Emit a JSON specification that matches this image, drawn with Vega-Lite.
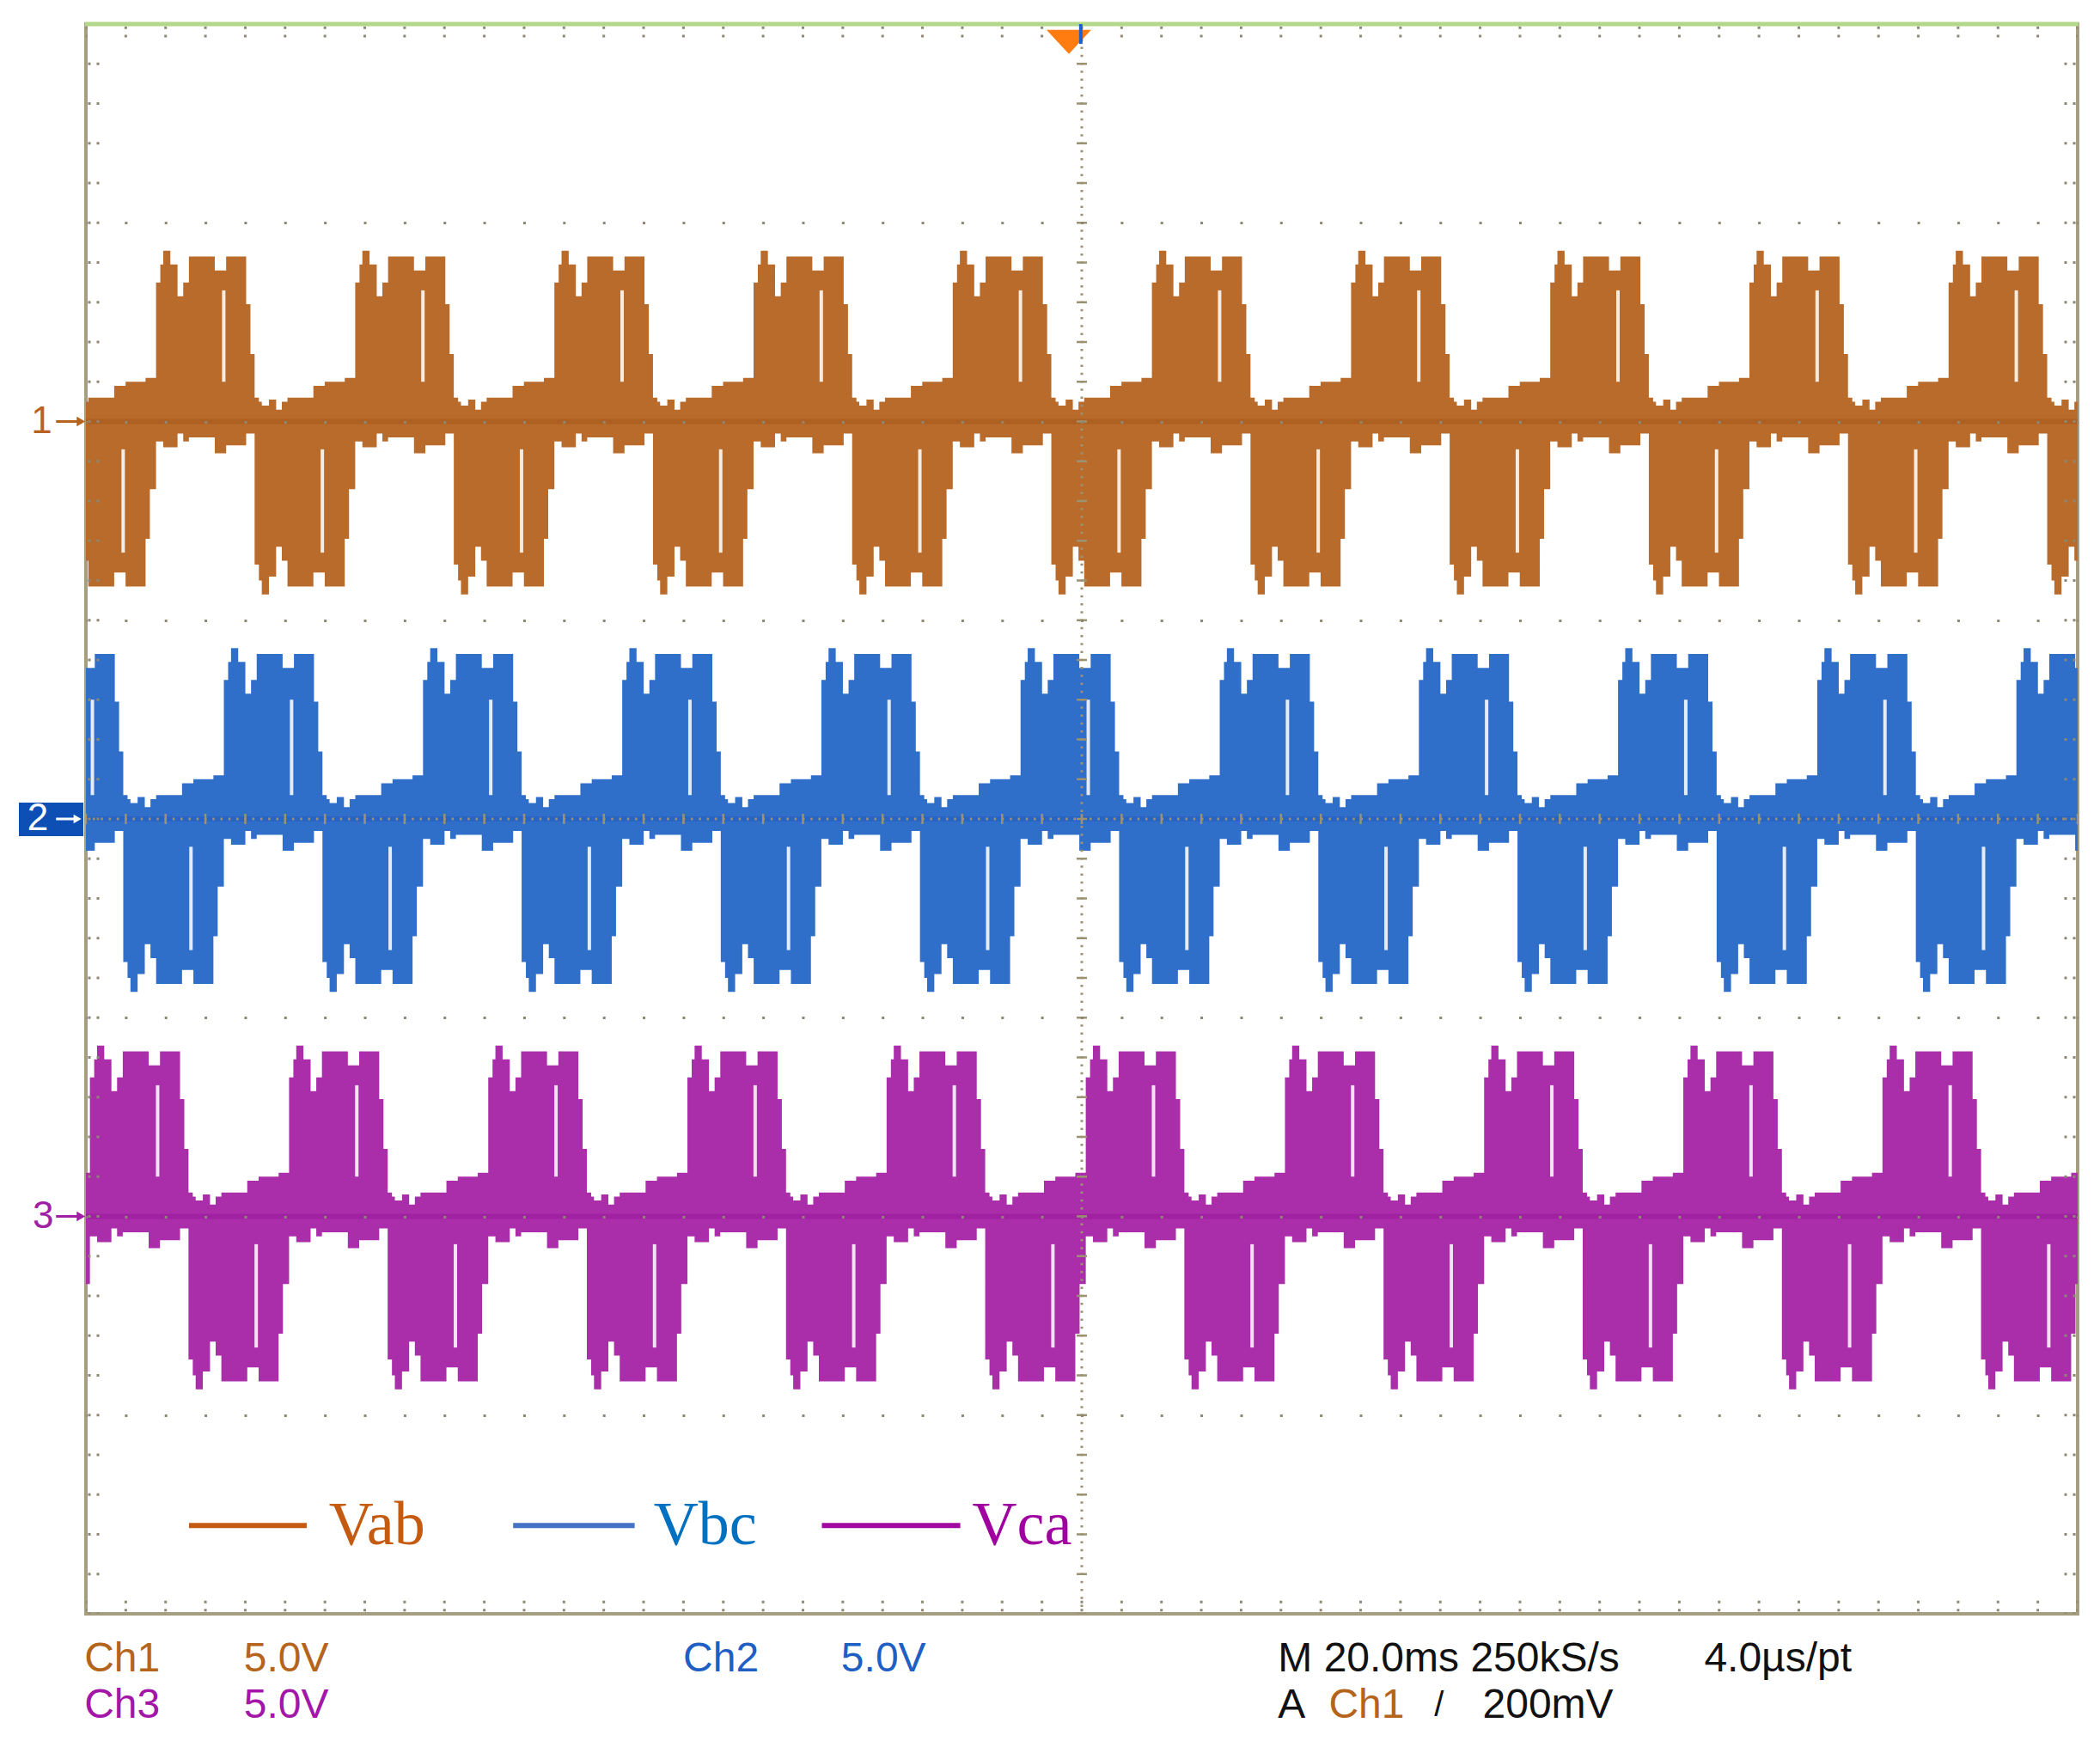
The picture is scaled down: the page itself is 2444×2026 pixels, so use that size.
{
"$schema":"https://vega.github.io/schema/vega-lite/v6.json",
"width":2318,"height":1850,
"padding":{"left":100,"top":28,"right":26,"bottom":148},
"autosize":{"type":"none"},
"background":"white",
"config":{"view":{"stroke":"#a69e80","strokeWidth":4},"axis":{"domain":false,"ticks":false,"labels":false,"grid":false}},
"datasets":{
"vab":[
{"t":0,"h":0.5,"l":-3.5},{"t":0.24,"h":0.6,"l":-4.15},{"t":2.84,"h":0.9,"l":-3.8},{"t":3.98,"h":1,"l":-4.15},{"t":5.99,"h":1.1,"l":-2.95},{"t":6.42,"h":1.1,"l":-1.7},
{"t":7.04,"h":3.5,"l":-0.5},{"t":7.47,"h":3.95,"l":-0.5},{"t":7.76,"h":4.3,"l":-0.65},{"t":8.48,"h":3.95,"l":-0.65},{"t":9.2,"h":3.15,"l":-0.3},{"t":9.77,"h":3.5,"l":-0.5},{"t":10.34,"h":4.15,"l":-0.4},{"t":12.94,"h":3.8,"l":-0.8},{"t":14.08,"h":4.15,"l":-0.6},{"t":16.09,"h":2.95,"l":-0.3},{"t":16.52,"h":1.7,"l":-0.3},{"t":16.94,"h":0.6,"l":-3.6},{"t":17.37,"h":0.5,"l":-4},{"t":17.66,"h":0.4,"l":-4.35},{"t":18.38,"h":0.55,"l":-3.9},{"t":19.1,"h":0.3,"l":-3.15},{"t":19.67,"h":0.5,"l":-3.5},{"t":20.24,"h":0.6,"l":-4.15},{"t":22.84,"h":0.9,"l":-3.8},{"t":23.98,"h":1,"l":-4.15},{"t":25.99,"h":1.1,"l":-2.95},{"t":26.42,"h":1.1,"l":-1.7},
{"t":27.04,"h":3.5,"l":-0.5},{"t":27.47,"h":3.95,"l":-0.5},{"t":27.76,"h":4.3,"l":-0.65},{"t":28.48,"h":3.95,"l":-0.65},{"t":29.2,"h":3.15,"l":-0.3},{"t":29.77,"h":3.5,"l":-0.5},{"t":30.34,"h":4.15,"l":-0.4},{"t":32.94,"h":3.8,"l":-0.8},{"t":34.08,"h":4.15,"l":-0.6},{"t":36.09,"h":2.95,"l":-0.3},{"t":36.52,"h":1.7,"l":-0.3},{"t":36.94,"h":0.6,"l":-3.6},{"t":37.37,"h":0.5,"l":-4},{"t":37.66,"h":0.4,"l":-4.35},{"t":38.38,"h":0.55,"l":-3.9},{"t":39.1,"h":0.3,"l":-3.15},{"t":39.67,"h":0.5,"l":-3.5},{"t":40.24,"h":0.6,"l":-4.15},{"t":42.84,"h":0.9,"l":-3.8},{"t":43.98,"h":1,"l":-4.15},{"t":45.99,"h":1.1,"l":-2.95},{"t":46.42,"h":1.1,"l":-1.7},
{"t":47.04,"h":3.5,"l":-0.5},{"t":47.47,"h":3.95,"l":-0.5},{"t":47.76,"h":4.3,"l":-0.65},{"t":48.48,"h":3.95,"l":-0.65},{"t":49.2,"h":3.15,"l":-0.3},{"t":49.77,"h":3.5,"l":-0.5},{"t":50.34,"h":4.15,"l":-0.4},{"t":52.94,"h":3.8,"l":-0.8},{"t":54.08,"h":4.15,"l":-0.6},{"t":56.09,"h":2.95,"l":-0.3},{"t":56.52,"h":1.7,"l":-0.3},{"t":56.94,"h":0.6,"l":-3.6},{"t":57.37,"h":0.5,"l":-4},{"t":57.66,"h":0.4,"l":-4.35},{"t":58.38,"h":0.55,"l":-3.9},{"t":59.1,"h":0.3,"l":-3.15},{"t":59.67,"h":0.5,"l":-3.5},{"t":60.24,"h":0.6,"l":-4.15},{"t":62.84,"h":0.9,"l":-3.8},{"t":63.98,"h":1,"l":-4.15},{"t":65.99,"h":1.1,"l":-2.95},{"t":66.42,"h":1.1,"l":-1.7},
{"t":67.04,"h":3.5,"l":-0.5},{"t":67.47,"h":3.95,"l":-0.5},{"t":67.76,"h":4.3,"l":-0.65},{"t":68.48,"h":3.95,"l":-0.65},{"t":69.2,"h":3.15,"l":-0.3},{"t":69.77,"h":3.5,"l":-0.5},{"t":70.34,"h":4.15,"l":-0.4},{"t":72.94,"h":3.8,"l":-0.8},{"t":74.08,"h":4.15,"l":-0.6},{"t":76.09,"h":2.95,"l":-0.3},{"t":76.52,"h":1.7,"l":-0.3},{"t":76.94,"h":0.6,"l":-3.6},{"t":77.37,"h":0.5,"l":-4},{"t":77.66,"h":0.4,"l":-4.35},{"t":78.38,"h":0.55,"l":-3.9},{"t":79.1,"h":0.3,"l":-3.15},{"t":79.67,"h":0.5,"l":-3.5},{"t":80.24,"h":0.6,"l":-4.15},{"t":82.84,"h":0.9,"l":-3.8},{"t":83.98,"h":1,"l":-4.15},{"t":85.99,"h":1.1,"l":-2.95},{"t":86.42,"h":1.1,"l":-1.7},
{"t":87.04,"h":3.5,"l":-0.5},{"t":87.47,"h":3.95,"l":-0.5},{"t":87.76,"h":4.3,"l":-0.65},{"t":88.48,"h":3.95,"l":-0.65},{"t":89.2,"h":3.15,"l":-0.3},{"t":89.77,"h":3.5,"l":-0.5},{"t":90.34,"h":4.15,"l":-0.4},{"t":92.94,"h":3.8,"l":-0.8},{"t":94.08,"h":4.15,"l":-0.6},{"t":96.09,"h":2.95,"l":-0.3},{"t":96.52,"h":1.7,"l":-0.3},{"t":96.94,"h":0.6,"l":-3.6},{"t":97.37,"h":0.5,"l":-4},{"t":97.66,"h":0.4,"l":-4.35},{"t":98.38,"h":0.55,"l":-3.9},{"t":99.1,"h":0.3,"l":-3.15},{"t":99.67,"h":0.5,"l":-3.5},{"t":100.24,"h":0.6,"l":-4.15},{"t":102.84,"h":0.9,"l":-3.8},{"t":103.98,"h":1,"l":-4.15},{"t":105.99,"h":1.1,"l":-2.95},{"t":106.42,"h":1.1,"l":-1.7},
{"t":107.04,"h":3.5,"l":-0.5},{"t":107.47,"h":3.95,"l":-0.5},{"t":107.76,"h":4.3,"l":-0.65},{"t":108.48,"h":3.95,"l":-0.65},{"t":109.2,"h":3.15,"l":-0.3},{"t":109.77,"h":3.5,"l":-0.5},{"t":110.34,"h":4.15,"l":-0.4},{"t":112.94,"h":3.8,"l":-0.8},{"t":114.08,"h":4.15,"l":-0.6},{"t":116.09,"h":2.95,"l":-0.3},{"t":116.52,"h":1.7,"l":-0.3},{"t":116.94,"h":0.6,"l":-3.6},{"t":117.37,"h":0.5,"l":-4},{"t":117.66,"h":0.4,"l":-4.35},{"t":118.38,"h":0.55,"l":-3.9},{"t":119.1,"h":0.3,"l":-3.15},{"t":119.67,"h":0.5,"l":-3.5},{"t":120.24,"h":0.6,"l":-4.15},{"t":122.84,"h":0.9,"l":-3.8},{"t":123.98,"h":1,"l":-4.15},{"t":125.99,"h":1.1,"l":-2.95},{"t":126.42,"h":1.1,"l":-1.7},
{"t":127.04,"h":3.5,"l":-0.5},{"t":127.47,"h":3.95,"l":-0.5},{"t":127.76,"h":4.3,"l":-0.65},{"t":128.48,"h":3.95,"l":-0.65},{"t":129.2,"h":3.15,"l":-0.3},{"t":129.77,"h":3.5,"l":-0.5},{"t":130.34,"h":4.15,"l":-0.4},{"t":132.94,"h":3.8,"l":-0.8},{"t":134.08,"h":4.15,"l":-0.6},{"t":136.09,"h":2.95,"l":-0.3},{"t":136.52,"h":1.7,"l":-0.3},{"t":136.94,"h":0.6,"l":-3.6},{"t":137.37,"h":0.5,"l":-4},{"t":137.66,"h":0.4,"l":-4.35},{"t":138.38,"h":0.55,"l":-3.9},{"t":139.1,"h":0.3,"l":-3.15},{"t":139.67,"h":0.5,"l":-3.5},{"t":140.24,"h":0.6,"l":-4.15},{"t":142.84,"h":0.9,"l":-3.8},{"t":143.98,"h":1,"l":-4.15},{"t":145.99,"h":1.1,"l":-2.95},{"t":146.42,"h":1.1,"l":-1.7},
{"t":147.04,"h":3.5,"l":-0.5},{"t":147.47,"h":3.95,"l":-0.5},{"t":147.76,"h":4.3,"l":-0.65},{"t":148.48,"h":3.95,"l":-0.65},{"t":149.2,"h":3.15,"l":-0.3},{"t":149.77,"h":3.5,"l":-0.5},{"t":150.34,"h":4.15,"l":-0.4},{"t":152.94,"h":3.8,"l":-0.8},{"t":154.08,"h":4.15,"l":-0.6},{"t":156.09,"h":2.95,"l":-0.3},{"t":156.52,"h":1.7,"l":-0.3},{"t":156.94,"h":0.6,"l":-3.6},{"t":157.37,"h":0.5,"l":-4},{"t":157.66,"h":0.4,"l":-4.35},{"t":158.38,"h":0.55,"l":-3.9},{"t":159.1,"h":0.3,"l":-3.15},{"t":159.67,"h":0.5,"l":-3.5},{"t":160.24,"h":0.6,"l":-4.15},{"t":162.84,"h":0.9,"l":-3.8},{"t":163.98,"h":1,"l":-4.15},{"t":165.99,"h":1.1,"l":-2.95},{"t":166.42,"h":1.1,"l":-1.7},
{"t":167.04,"h":3.5,"l":-0.5},{"t":167.47,"h":3.95,"l":-0.5},{"t":167.76,"h":4.3,"l":-0.65},{"t":168.48,"h":3.95,"l":-0.65},{"t":169.2,"h":3.15,"l":-0.3},{"t":169.77,"h":3.5,"l":-0.5},{"t":170.34,"h":4.15,"l":-0.4},{"t":172.94,"h":3.8,"l":-0.8},{"t":174.08,"h":4.15,"l":-0.6},{"t":176.09,"h":2.95,"l":-0.3},{"t":176.52,"h":1.7,"l":-0.3},{"t":176.94,"h":0.6,"l":-3.6},{"t":177.37,"h":0.5,"l":-4},{"t":177.66,"h":0.4,"l":-4.35},{"t":178.38,"h":0.55,"l":-3.9},{"t":179.1,"h":0.3,"l":-3.15},{"t":179.67,"h":0.5,"l":-3.5},{"t":180.24,"h":0.6,"l":-4.15},{"t":182.84,"h":0.9,"l":-3.8},{"t":183.98,"h":1,"l":-4.15},{"t":185.99,"h":1.1,"l":-2.95},{"t":186.42,"h":1.1,"l":-1.7},
{"t":187.04,"h":3.5,"l":-0.5},{"t":187.47,"h":3.95,"l":-0.5},{"t":187.76,"h":4.3,"l":-0.65},{"t":188.48,"h":3.95,"l":-0.65},{"t":189.2,"h":3.15,"l":-0.3},{"t":189.77,"h":3.5,"l":-0.5},{"t":190.34,"h":4.15,"l":-0.4},{"t":192.94,"h":3.8,"l":-0.8},{"t":194.08,"h":4.15,"l":-0.6},{"t":196.09,"h":2.95,"l":-0.3},{"t":196.52,"h":1.7,"l":-0.3},{"t":196.94,"h":0.6,"l":-3.6},{"t":197.37,"h":0.5,"l":-4},{"t":197.66,"h":0.4,"l":-4.35},{"t":198.38,"h":0.55,"l":-3.9},{"t":199.1,"h":0.3,"l":-3.15},{"t":199.67,"h":0.5,"l":-3.5},{"t":200,"h":0.5,"l":-3.5}
],
"vbc":[
{"t":0,"h":3.8,"l":-0.8},{"t":0.89,"h":4.15,"l":-0.6},{"t":2.9,"h":2.95,"l":-0.3},{"t":3.33,"h":1.7,"l":-0.3},{"t":3.75,"h":0.6,"l":-3.6},{"t":4.18,"h":0.5,"l":-4},{"t":4.47,"h":0.4,"l":-4.35},{"t":5.19,"h":0.55,"l":-3.9},{"t":5.91,"h":0.3,"l":-3.15},{"t":6.48,"h":0.5,"l":-3.5},{"t":7.05,"h":0.6,"l":-4.15},{"t":9.65,"h":0.9,"l":-3.8},{"t":10.79,"h":1,"l":-4.15},{"t":12.8,"h":1.1,"l":-2.95},{"t":13.23,"h":1.1,"l":-1.7},
{"t":13.85,"h":3.5,"l":-0.5},{"t":14.28,"h":3.95,"l":-0.5},{"t":14.57,"h":4.3,"l":-0.65},{"t":15.29,"h":3.95,"l":-0.65},{"t":16.01,"h":3.15,"l":-0.3},{"t":16.58,"h":3.5,"l":-0.5},{"t":17.15,"h":4.15,"l":-0.4},{"t":19.75,"h":3.8,"l":-0.8},{"t":20.89,"h":4.15,"l":-0.6},{"t":22.9,"h":2.95,"l":-0.3},{"t":23.33,"h":1.7,"l":-0.3},{"t":23.75,"h":0.6,"l":-3.6},{"t":24.18,"h":0.5,"l":-4},{"t":24.47,"h":0.4,"l":-4.35},{"t":25.19,"h":0.55,"l":-3.9},{"t":25.91,"h":0.3,"l":-3.15},{"t":26.48,"h":0.5,"l":-3.5},{"t":27.05,"h":0.6,"l":-4.15},{"t":29.65,"h":0.9,"l":-3.8},{"t":30.79,"h":1,"l":-4.15},{"t":32.8,"h":1.1,"l":-2.95},{"t":33.23,"h":1.1,"l":-1.7},
{"t":33.85,"h":3.5,"l":-0.5},{"t":34.28,"h":3.95,"l":-0.5},{"t":34.57,"h":4.3,"l":-0.65},{"t":35.29,"h":3.95,"l":-0.65},{"t":36.01,"h":3.15,"l":-0.3},{"t":36.58,"h":3.5,"l":-0.5},{"t":37.15,"h":4.15,"l":-0.4},{"t":39.75,"h":3.8,"l":-0.8},{"t":40.89,"h":4.15,"l":-0.6},{"t":42.9,"h":2.95,"l":-0.3},{"t":43.33,"h":1.7,"l":-0.3},{"t":43.75,"h":0.6,"l":-3.6},{"t":44.18,"h":0.5,"l":-4},{"t":44.47,"h":0.4,"l":-4.35},{"t":45.19,"h":0.55,"l":-3.9},{"t":45.91,"h":0.3,"l":-3.15},{"t":46.48,"h":0.5,"l":-3.5},{"t":47.05,"h":0.6,"l":-4.15},{"t":49.65,"h":0.9,"l":-3.8},{"t":50.79,"h":1,"l":-4.15},{"t":52.8,"h":1.1,"l":-2.95},{"t":53.23,"h":1.1,"l":-1.7},
{"t":53.85,"h":3.5,"l":-0.5},{"t":54.28,"h":3.95,"l":-0.5},{"t":54.57,"h":4.3,"l":-0.65},{"t":55.29,"h":3.95,"l":-0.65},{"t":56.01,"h":3.15,"l":-0.3},{"t":56.58,"h":3.5,"l":-0.5},{"t":57.15,"h":4.15,"l":-0.4},{"t":59.75,"h":3.8,"l":-0.8},{"t":60.89,"h":4.15,"l":-0.6},{"t":62.9,"h":2.95,"l":-0.3},{"t":63.33,"h":1.7,"l":-0.3},{"t":63.75,"h":0.6,"l":-3.6},{"t":64.18,"h":0.5,"l":-4},{"t":64.47,"h":0.4,"l":-4.35},{"t":65.19,"h":0.55,"l":-3.9},{"t":65.91,"h":0.3,"l":-3.15},{"t":66.48,"h":0.5,"l":-3.5},{"t":67.05,"h":0.6,"l":-4.15},{"t":69.65,"h":0.9,"l":-3.8},{"t":70.79,"h":1,"l":-4.15},{"t":72.8,"h":1.1,"l":-2.95},{"t":73.23,"h":1.1,"l":-1.7},
{"t":73.85,"h":3.5,"l":-0.5},{"t":74.28,"h":3.95,"l":-0.5},{"t":74.57,"h":4.3,"l":-0.65},{"t":75.29,"h":3.95,"l":-0.65},{"t":76.01,"h":3.15,"l":-0.3},{"t":76.58,"h":3.5,"l":-0.5},{"t":77.15,"h":4.15,"l":-0.4},{"t":79.75,"h":3.8,"l":-0.8},{"t":80.89,"h":4.15,"l":-0.6},{"t":82.9,"h":2.95,"l":-0.3},{"t":83.33,"h":1.7,"l":-0.3},{"t":83.75,"h":0.6,"l":-3.6},{"t":84.18,"h":0.5,"l":-4},{"t":84.47,"h":0.4,"l":-4.35},{"t":85.19,"h":0.55,"l":-3.9},{"t":85.91,"h":0.3,"l":-3.15},{"t":86.48,"h":0.5,"l":-3.5},{"t":87.05,"h":0.6,"l":-4.15},{"t":89.65,"h":0.9,"l":-3.8},{"t":90.79,"h":1,"l":-4.15},{"t":92.8,"h":1.1,"l":-2.95},{"t":93.23,"h":1.1,"l":-1.7},
{"t":93.85,"h":3.5,"l":-0.5},{"t":94.28,"h":3.95,"l":-0.5},{"t":94.57,"h":4.3,"l":-0.65},{"t":95.29,"h":3.95,"l":-0.65},{"t":96.01,"h":3.15,"l":-0.3},{"t":96.58,"h":3.5,"l":-0.5},{"t":97.15,"h":4.15,"l":-0.4},{"t":99.75,"h":3.8,"l":-0.8},{"t":100.89,"h":4.15,"l":-0.6},{"t":102.9,"h":2.95,"l":-0.3},{"t":103.33,"h":1.7,"l":-0.3},{"t":103.75,"h":0.6,"l":-3.6},{"t":104.18,"h":0.5,"l":-4},{"t":104.47,"h":0.4,"l":-4.35},{"t":105.19,"h":0.55,"l":-3.9},{"t":105.91,"h":0.3,"l":-3.15},{"t":106.48,"h":0.5,"l":-3.5},{"t":107.05,"h":0.6,"l":-4.15},{"t":109.65,"h":0.9,"l":-3.8},{"t":110.79,"h":1,"l":-4.15},{"t":112.8,"h":1.1,"l":-2.95},{"t":113.23,"h":1.1,"l":-1.7},
{"t":113.85,"h":3.5,"l":-0.5},{"t":114.28,"h":3.95,"l":-0.5},{"t":114.57,"h":4.3,"l":-0.65},{"t":115.29,"h":3.95,"l":-0.65},{"t":116.01,"h":3.15,"l":-0.3},{"t":116.58,"h":3.5,"l":-0.5},{"t":117.15,"h":4.15,"l":-0.4},{"t":119.75,"h":3.8,"l":-0.8},{"t":120.89,"h":4.15,"l":-0.6},{"t":122.9,"h":2.95,"l":-0.3},{"t":123.33,"h":1.7,"l":-0.3},{"t":123.75,"h":0.6,"l":-3.6},{"t":124.18,"h":0.5,"l":-4},{"t":124.47,"h":0.4,"l":-4.35},{"t":125.19,"h":0.55,"l":-3.9},{"t":125.91,"h":0.3,"l":-3.15},{"t":126.48,"h":0.5,"l":-3.5},{"t":127.05,"h":0.6,"l":-4.15},{"t":129.65,"h":0.9,"l":-3.8},{"t":130.79,"h":1,"l":-4.15},{"t":132.8,"h":1.1,"l":-2.95},{"t":133.23,"h":1.1,"l":-1.7},
{"t":133.85,"h":3.5,"l":-0.5},{"t":134.28,"h":3.95,"l":-0.5},{"t":134.57,"h":4.3,"l":-0.65},{"t":135.29,"h":3.95,"l":-0.65},{"t":136.01,"h":3.15,"l":-0.3},{"t":136.58,"h":3.5,"l":-0.5},{"t":137.15,"h":4.15,"l":-0.4},{"t":139.75,"h":3.8,"l":-0.8},{"t":140.89,"h":4.15,"l":-0.6},{"t":142.9,"h":2.95,"l":-0.3},{"t":143.33,"h":1.7,"l":-0.3},{"t":143.75,"h":0.6,"l":-3.6},{"t":144.18,"h":0.5,"l":-4},{"t":144.47,"h":0.4,"l":-4.35},{"t":145.19,"h":0.55,"l":-3.9},{"t":145.91,"h":0.3,"l":-3.15},{"t":146.48,"h":0.5,"l":-3.5},{"t":147.05,"h":0.6,"l":-4.15},{"t":149.65,"h":0.9,"l":-3.8},{"t":150.79,"h":1,"l":-4.15},{"t":152.8,"h":1.1,"l":-2.95},{"t":153.23,"h":1.1,"l":-1.7},
{"t":153.85,"h":3.5,"l":-0.5},{"t":154.28,"h":3.95,"l":-0.5},{"t":154.57,"h":4.3,"l":-0.65},{"t":155.29,"h":3.95,"l":-0.65},{"t":156.01,"h":3.15,"l":-0.3},{"t":156.58,"h":3.5,"l":-0.5},{"t":157.15,"h":4.15,"l":-0.4},{"t":159.75,"h":3.8,"l":-0.8},{"t":160.89,"h":4.15,"l":-0.6},{"t":162.9,"h":2.95,"l":-0.3},{"t":163.33,"h":1.7,"l":-0.3},{"t":163.75,"h":0.6,"l":-3.6},{"t":164.18,"h":0.5,"l":-4},{"t":164.47,"h":0.4,"l":-4.35},{"t":165.19,"h":0.55,"l":-3.9},{"t":165.91,"h":0.3,"l":-3.15},{"t":166.48,"h":0.5,"l":-3.5},{"t":167.05,"h":0.6,"l":-4.15},{"t":169.65,"h":0.9,"l":-3.8},{"t":170.79,"h":1,"l":-4.15},{"t":172.8,"h":1.1,"l":-2.95},{"t":173.23,"h":1.1,"l":-1.7},
{"t":173.85,"h":3.5,"l":-0.5},{"t":174.28,"h":3.95,"l":-0.5},{"t":174.57,"h":4.3,"l":-0.65},{"t":175.29,"h":3.95,"l":-0.65},{"t":176.01,"h":3.15,"l":-0.3},{"t":176.58,"h":3.5,"l":-0.5},{"t":177.15,"h":4.15,"l":-0.4},{"t":179.75,"h":3.8,"l":-0.8},{"t":180.89,"h":4.15,"l":-0.6},{"t":182.9,"h":2.95,"l":-0.3},{"t":183.33,"h":1.7,"l":-0.3},{"t":183.75,"h":0.6,"l":-3.6},{"t":184.18,"h":0.5,"l":-4},{"t":184.47,"h":0.4,"l":-4.35},{"t":185.19,"h":0.55,"l":-3.9},{"t":185.91,"h":0.3,"l":-3.15},{"t":186.48,"h":0.5,"l":-3.5},{"t":187.05,"h":0.6,"l":-4.15},{"t":189.65,"h":0.9,"l":-3.8},{"t":190.79,"h":1,"l":-4.15},{"t":192.8,"h":1.1,"l":-2.95},{"t":193.23,"h":1.1,"l":-1.7},
{"t":193.85,"h":3.5,"l":-0.5},{"t":194.28,"h":3.95,"l":-0.5},{"t":194.57,"h":4.3,"l":-0.65},{"t":195.29,"h":3.95,"l":-0.65},{"t":196.01,"h":3.15,"l":-0.3},{"t":196.58,"h":3.5,"l":-0.5},{"t":197.15,"h":4.15,"l":-0.4},{"t":199.75,"h":3.8,"l":-0.8},{"t":200,"h":3.8,"l":-0.8}
],
"vca":[
{"t":0,"h":1.1,"l":-1.7},
{"t":0.4,"h":3.5,"l":-0.5},{"t":0.83,"h":3.95,"l":-0.5},{"t":1.12,"h":4.3,"l":-0.65},{"t":1.84,"h":3.95,"l":-0.65},{"t":2.56,"h":3.15,"l":-0.3},{"t":3.13,"h":3.5,"l":-0.5},{"t":3.7,"h":4.15,"l":-0.4},{"t":6.3,"h":3.8,"l":-0.8},{"t":7.44,"h":4.15,"l":-0.6},{"t":9.45,"h":2.95,"l":-0.3},{"t":9.88,"h":1.7,"l":-0.3},{"t":10.3,"h":0.6,"l":-3.6},{"t":10.73,"h":0.5,"l":-4},{"t":11.02,"h":0.4,"l":-4.35},{"t":11.74,"h":0.55,"l":-3.9},{"t":12.46,"h":0.3,"l":-3.15},{"t":13.03,"h":0.5,"l":-3.5},{"t":13.6,"h":0.6,"l":-4.15},{"t":16.2,"h":0.9,"l":-3.8},{"t":17.34,"h":1,"l":-4.15},{"t":19.35,"h":1.1,"l":-2.95},{"t":19.78,"h":1.1,"l":-1.7},
{"t":20.4,"h":3.5,"l":-0.5},{"t":20.83,"h":3.95,"l":-0.5},{"t":21.12,"h":4.3,"l":-0.65},{"t":21.84,"h":3.95,"l":-0.65},{"t":22.56,"h":3.15,"l":-0.3},{"t":23.13,"h":3.5,"l":-0.5},{"t":23.7,"h":4.15,"l":-0.4},{"t":26.3,"h":3.8,"l":-0.8},{"t":27.44,"h":4.15,"l":-0.6},{"t":29.45,"h":2.95,"l":-0.3},{"t":29.88,"h":1.7,"l":-0.3},{"t":30.3,"h":0.6,"l":-3.6},{"t":30.73,"h":0.5,"l":-4},{"t":31.02,"h":0.4,"l":-4.35},{"t":31.74,"h":0.55,"l":-3.9},{"t":32.46,"h":0.3,"l":-3.15},{"t":33.03,"h":0.5,"l":-3.5},{"t":33.6,"h":0.6,"l":-4.15},{"t":36.2,"h":0.9,"l":-3.8},{"t":37.34,"h":1,"l":-4.15},{"t":39.35,"h":1.1,"l":-2.95},{"t":39.78,"h":1.1,"l":-1.7},
{"t":40.4,"h":3.5,"l":-0.5},{"t":40.83,"h":3.95,"l":-0.5},{"t":41.12,"h":4.3,"l":-0.65},{"t":41.84,"h":3.95,"l":-0.65},{"t":42.56,"h":3.15,"l":-0.3},{"t":43.13,"h":3.5,"l":-0.5},{"t":43.7,"h":4.15,"l":-0.4},{"t":46.3,"h":3.8,"l":-0.8},{"t":47.44,"h":4.15,"l":-0.6},{"t":49.45,"h":2.95,"l":-0.3},{"t":49.88,"h":1.7,"l":-0.3},{"t":50.3,"h":0.6,"l":-3.6},{"t":50.73,"h":0.5,"l":-4},{"t":51.02,"h":0.4,"l":-4.35},{"t":51.74,"h":0.55,"l":-3.9},{"t":52.46,"h":0.3,"l":-3.15},{"t":53.03,"h":0.5,"l":-3.5},{"t":53.6,"h":0.6,"l":-4.15},{"t":56.2,"h":0.9,"l":-3.8},{"t":57.34,"h":1,"l":-4.15},{"t":59.35,"h":1.1,"l":-2.95},{"t":59.78,"h":1.1,"l":-1.7},
{"t":60.4,"h":3.5,"l":-0.5},{"t":60.83,"h":3.95,"l":-0.5},{"t":61.12,"h":4.3,"l":-0.65},{"t":61.84,"h":3.95,"l":-0.65},{"t":62.56,"h":3.15,"l":-0.3},{"t":63.13,"h":3.5,"l":-0.5},{"t":63.7,"h":4.15,"l":-0.4},{"t":66.3,"h":3.8,"l":-0.8},{"t":67.44,"h":4.15,"l":-0.6},{"t":69.45,"h":2.95,"l":-0.3},{"t":69.88,"h":1.7,"l":-0.3},{"t":70.3,"h":0.6,"l":-3.6},{"t":70.73,"h":0.5,"l":-4},{"t":71.02,"h":0.4,"l":-4.35},{"t":71.74,"h":0.55,"l":-3.9},{"t":72.46,"h":0.3,"l":-3.15},{"t":73.03,"h":0.5,"l":-3.5},{"t":73.6,"h":0.6,"l":-4.15},{"t":76.2,"h":0.9,"l":-3.8},{"t":77.34,"h":1,"l":-4.15},{"t":79.35,"h":1.1,"l":-2.95},{"t":79.78,"h":1.1,"l":-1.7},
{"t":80.4,"h":3.5,"l":-0.5},{"t":80.83,"h":3.95,"l":-0.5},{"t":81.12,"h":4.3,"l":-0.65},{"t":81.84,"h":3.95,"l":-0.65},{"t":82.56,"h":3.15,"l":-0.3},{"t":83.13,"h":3.5,"l":-0.5},{"t":83.7,"h":4.15,"l":-0.4},{"t":86.3,"h":3.8,"l":-0.8},{"t":87.44,"h":4.15,"l":-0.6},{"t":89.45,"h":2.95,"l":-0.3},{"t":89.88,"h":1.7,"l":-0.3},{"t":90.3,"h":0.6,"l":-3.6},{"t":90.73,"h":0.5,"l":-4},{"t":91.02,"h":0.4,"l":-4.35},{"t":91.74,"h":0.55,"l":-3.9},{"t":92.46,"h":0.3,"l":-3.15},{"t":93.03,"h":0.5,"l":-3.5},{"t":93.6,"h":0.6,"l":-4.15},{"t":96.2,"h":0.9,"l":-3.8},{"t":97.34,"h":1,"l":-4.15},{"t":99.35,"h":1.1,"l":-2.95},{"t":99.78,"h":1.1,"l":-1.7},
{"t":100.4,"h":3.5,"l":-0.5},{"t":100.83,"h":3.95,"l":-0.5},{"t":101.12,"h":4.3,"l":-0.65},{"t":101.84,"h":3.95,"l":-0.65},{"t":102.56,"h":3.15,"l":-0.3},{"t":103.13,"h":3.5,"l":-0.5},{"t":103.7,"h":4.15,"l":-0.4},{"t":106.3,"h":3.8,"l":-0.8},{"t":107.44,"h":4.15,"l":-0.6},{"t":109.45,"h":2.95,"l":-0.3},{"t":109.88,"h":1.7,"l":-0.3},{"t":110.3,"h":0.6,"l":-3.6},{"t":110.73,"h":0.5,"l":-4},{"t":111.02,"h":0.4,"l":-4.35},{"t":111.74,"h":0.55,"l":-3.9},{"t":112.46,"h":0.3,"l":-3.15},{"t":113.03,"h":0.5,"l":-3.5},{"t":113.6,"h":0.6,"l":-4.15},{"t":116.2,"h":0.9,"l":-3.8},{"t":117.34,"h":1,"l":-4.15},{"t":119.35,"h":1.1,"l":-2.95},{"t":119.78,"h":1.1,"l":-1.7},
{"t":120.4,"h":3.5,"l":-0.5},{"t":120.83,"h":3.95,"l":-0.5},{"t":121.12,"h":4.3,"l":-0.65},{"t":121.84,"h":3.95,"l":-0.65},{"t":122.56,"h":3.15,"l":-0.3},{"t":123.13,"h":3.5,"l":-0.5},{"t":123.7,"h":4.15,"l":-0.4},{"t":126.3,"h":3.8,"l":-0.8},{"t":127.44,"h":4.15,"l":-0.6},{"t":129.45,"h":2.95,"l":-0.3},{"t":129.88,"h":1.7,"l":-0.3},{"t":130.3,"h":0.6,"l":-3.6},{"t":130.73,"h":0.5,"l":-4},{"t":131.02,"h":0.4,"l":-4.35},{"t":131.74,"h":0.55,"l":-3.9},{"t":132.46,"h":0.3,"l":-3.15},{"t":133.03,"h":0.5,"l":-3.5},{"t":133.6,"h":0.6,"l":-4.15},{"t":136.2,"h":0.9,"l":-3.8},{"t":137.34,"h":1,"l":-4.15},{"t":139.35,"h":1.1,"l":-2.95},{"t":139.78,"h":1.1,"l":-1.7},
{"t":140.4,"h":3.5,"l":-0.5},{"t":140.83,"h":3.95,"l":-0.5},{"t":141.12,"h":4.3,"l":-0.65},{"t":141.84,"h":3.95,"l":-0.65},{"t":142.56,"h":3.15,"l":-0.3},{"t":143.13,"h":3.5,"l":-0.5},{"t":143.7,"h":4.15,"l":-0.4},{"t":146.3,"h":3.8,"l":-0.8},{"t":147.44,"h":4.15,"l":-0.6},{"t":149.45,"h":2.95,"l":-0.3},{"t":149.88,"h":1.7,"l":-0.3},{"t":150.3,"h":0.6,"l":-3.6},{"t":150.73,"h":0.5,"l":-4},{"t":151.02,"h":0.4,"l":-4.35},{"t":151.74,"h":0.55,"l":-3.9},{"t":152.46,"h":0.3,"l":-3.15},{"t":153.03,"h":0.5,"l":-3.5},{"t":153.6,"h":0.6,"l":-4.15},{"t":156.2,"h":0.9,"l":-3.8},{"t":157.34,"h":1,"l":-4.15},{"t":159.35,"h":1.1,"l":-2.95},{"t":159.78,"h":1.1,"l":-1.7},
{"t":160.4,"h":3.5,"l":-0.5},{"t":160.83,"h":3.95,"l":-0.5},{"t":161.12,"h":4.3,"l":-0.65},{"t":161.84,"h":3.95,"l":-0.65},{"t":162.56,"h":3.15,"l":-0.3},{"t":163.13,"h":3.5,"l":-0.5},{"t":163.7,"h":4.15,"l":-0.4},{"t":166.3,"h":3.8,"l":-0.8},{"t":167.44,"h":4.15,"l":-0.6},{"t":169.45,"h":2.95,"l":-0.3},{"t":169.88,"h":1.7,"l":-0.3},{"t":170.3,"h":0.6,"l":-3.6},{"t":170.73,"h":0.5,"l":-4},{"t":171.02,"h":0.4,"l":-4.35},{"t":171.74,"h":0.55,"l":-3.9},{"t":172.46,"h":0.3,"l":-3.15},{"t":173.03,"h":0.5,"l":-3.5},{"t":173.6,"h":0.6,"l":-4.15},{"t":176.2,"h":0.9,"l":-3.8},{"t":177.34,"h":1,"l":-4.15},{"t":179.35,"h":1.1,"l":-2.95},{"t":179.78,"h":1.1,"l":-1.7},
{"t":180.4,"h":3.5,"l":-0.5},{"t":180.83,"h":3.95,"l":-0.5},{"t":181.12,"h":4.3,"l":-0.65},{"t":181.84,"h":3.95,"l":-0.65},{"t":182.56,"h":3.15,"l":-0.3},{"t":183.13,"h":3.5,"l":-0.5},{"t":183.7,"h":4.15,"l":-0.4},{"t":186.3,"h":3.8,"l":-0.8},{"t":187.44,"h":4.15,"l":-0.6},{"t":189.45,"h":2.95,"l":-0.3},{"t":189.88,"h":1.7,"l":-0.3},{"t":190.3,"h":0.6,"l":-3.6},{"t":190.73,"h":0.5,"l":-4},{"t":191.02,"h":0.4,"l":-4.35},{"t":191.74,"h":0.55,"l":-3.9},{"t":192.46,"h":0.3,"l":-3.15},{"t":193.03,"h":0.5,"l":-3.5},{"t":193.6,"h":0.6,"l":-4.15},{"t":196.2,"h":0.9,"l":-3.8},{"t":197.34,"h":1,"l":-4.15},{"t":199.35,"h":1.1,"l":-2.95},{"t":199.78,"h":1.1,"l":-1.7},
{"t":200,"h":1.1,"l":-1.7}
],
"gab":[
{"t":3.74,"a":-0.7,"b":-3.3},{"t":13.84,"a":3.3,"b":1.0},{"t":23.74,"a":-0.7,"b":-3.3},{"t":33.84,"a":3.3,"b":1.0},{"t":43.74,"a":-0.7,"b":-3.3},{"t":53.84,"a":3.3,"b":1.0},{"t":63.74,"a":-0.7,"b":-3.3},{"t":73.84,"a":3.3,"b":1.0},{"t":83.74,"a":-0.7,"b":-3.3},{"t":93.84,"a":3.3,"b":1.0},{"t":103.74,"a":-0.7,"b":-3.3},{"t":113.84,"a":3.3,"b":1.0},{"t":123.74,"a":-0.7,"b":-3.3},{"t":133.84,"a":3.3,"b":1.0},{"t":143.74,"a":-0.7,"b":-3.3},{"t":153.84,"a":3.3,"b":1.0},{"t":163.74,"a":-0.7,"b":-3.3},{"t":173.84,"a":3.3,"b":1.0},{"t":183.74,"a":-0.7,"b":-3.3},{"t":193.84,"a":3.3,"b":1.0}
],
"gbc":[
{"t":0.65,"a":3.0,"b":0.6},{"t":10.55,"a":-0.7,"b":-3.3},{"t":20.65,"a":3.0,"b":0.6},{"t":30.55,"a":-0.7,"b":-3.3},{"t":40.65,"a":3.0,"b":0.6},{"t":50.55,"a":-0.7,"b":-3.3},{"t":60.65,"a":3.0,"b":0.6},{"t":70.55,"a":-0.7,"b":-3.3},{"t":80.65,"a":3.0,"b":0.6},{"t":90.55,"a":-0.7,"b":-3.3},{"t":100.65,"a":3.0,"b":0.6},{"t":110.55,"a":-0.7,"b":-3.3},{"t":120.65,"a":3.0,"b":0.6},{"t":130.55,"a":-0.7,"b":-3.3},{"t":140.65,"a":3.0,"b":0.6},{"t":150.55,"a":-0.7,"b":-3.3},{"t":160.65,"a":3.0,"b":0.6},{"t":170.55,"a":-0.7,"b":-3.3},{"t":180.65,"a":3.0,"b":0.6},{"t":190.55,"a":-0.7,"b":-3.3}
],
"gca":[
{"t":7.2,"a":3.3,"b":1.0},{"t":17.1,"a":-0.7,"b":-3.3},{"t":27.2,"a":3.3,"b":1.0},{"t":37.1,"a":-0.7,"b":-3.3},{"t":47.2,"a":3.3,"b":1.0},{"t":57.1,"a":-0.7,"b":-3.3},{"t":67.2,"a":3.3,"b":1.0},{"t":77.1,"a":-0.7,"b":-3.3},{"t":87.2,"a":3.3,"b":1.0},{"t":97.1,"a":-0.7,"b":-3.3},{"t":107.2,"a":3.3,"b":1.0},{"t":117.1,"a":-0.7,"b":-3.3},{"t":127.2,"a":3.3,"b":1.0},{"t":137.1,"a":-0.7,"b":-3.3},{"t":147.2,"a":3.3,"b":1.0},{"t":157.1,"a":-0.7,"b":-3.3},{"t":167.2,"a":3.3,"b":1.0},{"t":177.1,"a":-0.7,"b":-3.3},{"t":187.2,"a":3.3,"b":1.0},{"t":197.1,"a":-0.7,"b":-3.3}
]
},
"layer":[
{"data":{"name":"vab"},"mark":{"type":"area","interpolate":"step-after","color":"#b96b2b","opacity":1},
 "encoding":{"x":{"field":"t","type":"quantitative","scale":{"domain":[0,200],"nice":false,"zero":false},"axis":null},
  "y":{"field":"h","type":"quantitative","scale":{"domain":[-30,10],"nice":false,"zero":false},"axis":null},"y2":{"field":"l"}}},
{"data":{"name":"vbc"},"mark":{"type":"area","interpolate":"step-after","color":"#2f6fca","opacity":1},
 "encoding":{"x":{"field":"t","type":"quantitative","scale":{"domain":[0,200],"nice":false,"zero":false},
   "axis":{"values":[20,40,60,80,120,140,160,180],"grid":true,"gridColor":"#8c8874","gridWidth":3,"gridDash":[3,43.25],"gridDashOffset":1.5,"domain":false,"ticks":false,"labels":false,"title":null,"zindex":1}},
  "y":{"field":"h","type":"quantitative","scale":{"domain":[-20,20],"nice":false,"zero":false},
   "axis":{"values":[-15,-10,-5,5,10,15],"grid":true,"gridColor":"#8c8874","gridWidth":3,"gridDash":[3,43.36],"gridDashOffset":1.5,"domain":false,"ticks":false,"labels":false,"title":null,"zindex":1}},
  "y2":{"field":"l"}}},
{"data":{"name":"vca"},"mark":{"type":"area","interpolate":"step-after","color":"#aa2daa","opacity":1},
 "encoding":{"x":{"field":"t","type":"quantitative","scale":{"domain":[0,200],"nice":false,"zero":false},"axis":null},
  "y":{"field":"h","type":"quantitative","scale":{"domain":[-10,30],"nice":false,"zero":false},"axis":null},"y2":{"field":"l"}}},
{"data":{"name":"gab"},"mark":{"type":"rule","color":"#f6ece2","strokeWidth":4},
 "encoding":{"x":{"field":"t","type":"quantitative","scale":{"domain":[0,200],"nice":false,"zero":false},"axis":null},
  "y":{"field":"a","type":"quantitative","scale":{"domain":[-30,10],"nice":false,"zero":false},"axis":null},"y2":{"field":"b"}}},
{"data":{"name":"gbc"},"mark":{"type":"rule","color":"#e4ecf8","strokeWidth":4},
 "encoding":{"x":{"field":"t","type":"quantitative","scale":{"domain":[0,200],"nice":false,"zero":false},"axis":null},
  "y":{"field":"a","type":"quantitative","scale":{"domain":[-20,20],"nice":false,"zero":false},"axis":null},"y2":{"field":"b"}}},
{"data":{"name":"gca"},"mark":{"type":"rule","color":"#f4e2f4","strokeWidth":4},
 "encoding":{"x":{"field":"t","type":"quantitative","scale":{"domain":[0,200],"nice":false,"zero":false},"axis":null},
  "y":{"field":"a","type":"quantitative","scale":{"domain":[-10,30],"nice":false,"zero":false},"axis":null},"y2":{"field":"b"}}},
{"data":{"values":[{}]},"mark":{"type":"rule","color":"#ad6022","strokeWidth":6},
 "encoding":{"x":{"datum":0,"type":"quantitative","scale":{"domain":[0,200],"nice":false,"zero":false},"axis":null},"x2":{"datum":200},
  "y":{"datum":10,"type":"quantitative","scale":{"domain":[-20,20],"nice":false,"zero":false},"axis":null}}},
{"data":{"values":[{}]},"mark":{"type":"rule","color":"#2764c4","strokeWidth":6},
 "encoding":{"x":{"datum":0,"type":"quantitative","scale":{"domain":[0,200],"nice":false,"zero":false},"axis":null},"x2":{"datum":200},
  "y":{"datum":0,"type":"quantitative","scale":{"domain":[-20,20],"nice":false,"zero":false},"axis":null}}},
{"data":{"values":[{}]},"mark":{"type":"rule","color":"#a021a2","strokeWidth":6},
 "encoding":{"x":{"datum":0,"type":"quantitative","scale":{"domain":[0,200],"nice":false,"zero":false},"axis":null},"x2":{"datum":200},
  "y":{"datum":-10,"type":"quantitative","scale":{"domain":[-20,20],"nice":false,"zero":false},"axis":null}}},
{"data":{"values":[{}]},"mark":{"type":"rule","color":"#9c9272","strokeWidth":3,"strokeDash":[2.5,6.78],"strokeDashOffset":1.25},
 "encoding":{"x":{"datum":0,"type":"quantitative","scale":{"domain":[0,200],"nice":false,"zero":false},"axis":null},"x2":{"datum":200},
  "y":{"datum":0,"type":"quantitative","scale":{"domain":[-20,20],"nice":false,"zero":false},"axis":null}}},
{"data":{"values":[{}]},"mark":{"type":"rule","color":"#9c9272","strokeWidth":12,"strokeDash":[2.5,43.86],"strokeDashOffset":1.25},
 "encoding":{"x":{"datum":0,"type":"quantitative","scale":{"domain":[0,200],"nice":false,"zero":false},"axis":null},"x2":{"datum":200},
  "y":{"datum":0,"type":"quantitative","scale":{"domain":[-20,20],"nice":false,"zero":false},"axis":null}}},
{"data":{"values":[{}]},"mark":{"type":"rule","color":"#9c9272","strokeWidth":3,"strokeDash":[2.5,6.75],"strokeDashOffset":1.25},
 "encoding":{"x":{"datum":100,"type":"quantitative","scale":{"domain":[0,200],"nice":false,"zero":false},"axis":null},
  "y":{"datum":-20,"type":"quantitative","scale":{"domain":[-20,20],"nice":false,"zero":false},"axis":null},"y2":{"datum":20}}},
{"data":{"values":[{}]},"mark":{"type":"rule","color":"#9c9272","strokeWidth":12,"strokeDash":[2.5,43.75],"strokeDashOffset":1.25},
 "encoding":{"x":{"datum":100,"type":"quantitative","scale":{"domain":[0,200],"nice":false,"zero":false},"axis":null},
  "y":{"datum":-20,"type":"quantitative","scale":{"domain":[-20,20],"nice":false,"zero":false},"axis":null},"y2":{"datum":20}}},
{"data":{"values":[{}]},"mark":{"type":"rule","color":"#8c8874","strokeWidth":3,"strokeDash":[3,43.25],"strokeDashOffset":1.5},
 "encoding":{"x":{"datum":0.345,"type":"quantitative","scale":{"domain":[0,200],"nice":false,"zero":false},"axis":null},
  "y":{"datum":-20,"type":"quantitative","scale":{"domain":[-20,20],"nice":false,"zero":false},"axis":null},"y2":{"datum":20}}},
{"data":{"values":[{}]},"mark":{"type":"rule","color":"#8c8874","strokeWidth":3,"strokeDash":[3,43.25],"strokeDashOffset":1.5},
 "encoding":{"x":{"datum":1.21,"type":"quantitative","scale":{"domain":[0,200],"nice":false,"zero":false},"axis":null},
  "y":{"datum":-20,"type":"quantitative","scale":{"domain":[-20,20],"nice":false,"zero":false},"axis":null},"y2":{"datum":20}}},
{"data":{"values":[{}]},"mark":{"type":"rule","color":"#8c8874","strokeWidth":3,"strokeDash":[3,43.25],"strokeDashOffset":1.5},
 "encoding":{"x":{"datum":198.79,"type":"quantitative","scale":{"domain":[0,200],"nice":false,"zero":false},"axis":null},
  "y":{"datum":-20,"type":"quantitative","scale":{"domain":[-20,20],"nice":false,"zero":false},"axis":null},"y2":{"datum":20}}},
{"data":{"values":[{}]},"mark":{"type":"rule","color":"#8c8874","strokeWidth":3,"strokeDash":[3,43.25],"strokeDashOffset":1.5},
 "encoding":{"x":{"datum":199.655,"type":"quantitative","scale":{"domain":[0,200],"nice":false,"zero":false},"axis":null},
  "y":{"datum":-20,"type":"quantitative","scale":{"domain":[-20,20],"nice":false,"zero":false},"axis":null},"y2":{"datum":20}}},
{"data":{"values":[{}]},"mark":{"type":"rule","color":"#8c8874","strokeWidth":3,"strokeDash":[3,43.36],"strokeDashOffset":1.5},
 "encoding":{"x":{"datum":0,"type":"quantitative","scale":{"domain":[0,200],"nice":false,"zero":false},"axis":null},"x2":{"datum":200},
  "y":{"datum":19.91,"type":"quantitative","scale":{"domain":[-20,20],"nice":false,"zero":false},"axis":null}}},
{"data":{"values":[{}]},"mark":{"type":"rule","color":"#8c8874","strokeWidth":3,"strokeDash":[3,43.36],"strokeDashOffset":1.5},
 "encoding":{"x":{"datum":0,"type":"quantitative","scale":{"domain":[0,200],"nice":false,"zero":false},"axis":null},"x2":{"datum":200},
  "y":{"datum":19.7,"type":"quantitative","scale":{"domain":[-20,20],"nice":false,"zero":false},"axis":null}}},
{"data":{"values":[{}]},"mark":{"type":"rule","color":"#8c8874","strokeWidth":3,"strokeDash":[3,43.36],"strokeDashOffset":1.5},
 "encoding":{"x":{"datum":0,"type":"quantitative","scale":{"domain":[0,200],"nice":false,"zero":false},"axis":null},"x2":{"datum":200},
  "y":{"datum":-19.7,"type":"quantitative","scale":{"domain":[-20,20],"nice":false,"zero":false},"axis":null}}},
{"data":{"values":[{}]},"mark":{"type":"rule","color":"#8c8874","strokeWidth":3,"strokeDash":[3,43.36],"strokeDashOffset":1.5},
 "encoding":{"x":{"datum":0,"type":"quantitative","scale":{"domain":[0,200],"nice":false,"zero":false},"axis":null},"x2":{"datum":200},
  "y":{"datum":-19.91,"type":"quantitative","scale":{"domain":[-20,20],"nice":false,"zero":false},"axis":null}}},
{"data":{"values":[{}]},"mark":{"type":"rule","color":"#b3d78b","strokeWidth":5},
 "encoding":{"x":{"datum":-0.1,"type":"quantitative","scale":{"domain":[0,200],"nice":false,"zero":false},"axis":null},"x2":{"datum":200.1},
  "y":{"datum":20,"type":"quantitative","scale":{"domain":[-20,20],"nice":false,"zero":false},"axis":null}}},
{"data":{"values":[{}]},"mark":{"type":"point","shape":"M-1,-0.54L1,-0.54L0,0.54Z","filled":true,"color":"#ff7c10","opacity":1,"size":2704},
 "encoding":{"x":{"datum":98.7,"type":"quantitative","scale":{"domain":[0,200],"nice":false,"zero":false},"axis":null},
  "y":{"datum":19.55,"type":"quantitative","scale":{"domain":[-20,20],"nice":false,"zero":false},"axis":null}}},
{"data":{"values":[{}]},"mark":{"type":"rule","color":"#1d60c8","strokeWidth":4},
 "encoding":{"x":{"datum":99.9,"type":"quantitative","scale":{"domain":[0,200],"nice":false,"zero":false},"axis":null},
  "y":{"datum":20,"type":"quantitative","scale":{"domain":[-20,20],"nice":false,"zero":false},"axis":null},"y2":{"datum":19.5}}},
{"data":{"values":[{}]},"mark":{"type":"text","text":"1","font":"Liberation Sans","fontSize":44,"color":"#b4641e","align":"center","baseline":"middle"},
 "encoding":{"x":{"datum":-4.44,"type":"quantitative","scale":{"domain":[0,200],"nice":false,"zero":false},"axis":null},
  "y":{"datum":10,"type":"quantitative","scale":{"domain":[-20,20],"nice":false,"zero":false},"axis":null}}},
{"data":{"values":[{}]},"mark":{"type":"rule","color":"#b4641e","strokeWidth":3},
 "encoding":{"x":{"datum":-3.0,"type":"quantitative","scale":{"domain":[0,200],"nice":false,"zero":false},"axis":null},"x2":{"datum":-0.6},
  "y":{"datum":10,"type":"quantitative","scale":{"domain":[-20,20],"nice":false,"zero":false},"axis":null}}},
{"data":{"values":[{}]},"mark":{"type":"point","shape":"triangle-right","filled":true,"color":"#b4641e","opacity":1,"size":130},
 "encoding":{"x":{"datum":-0.5,"type":"quantitative","scale":{"domain":[0,200],"nice":false,"zero":false},"axis":null},
  "y":{"datum":10,"type":"quantitative","scale":{"domain":[-20,20],"nice":false,"zero":false},"axis":null}}},
{"data":{"values":[{}]},"mark":{"type":"rect","color":"#0d4fb5"},
 "encoding":{"x":{"datum":-6.73,"type":"quantitative","scale":{"domain":[0,200],"nice":false,"zero":false},"axis":null},"x2":{"datum":-0.26},
  "y":{"datum":0.41,"type":"quantitative","scale":{"domain":[-20,20],"nice":false,"zero":false},"axis":null},"y2":{"datum":-0.43}}},
{"data":{"values":[{}]},"mark":{"type":"text","text":"2","font":"Liberation Sans","fontSize":44,"color":"#ffffff","align":"center","baseline":"middle"},
 "encoding":{"x":{"datum":-4.83,"type":"quantitative","scale":{"domain":[0,200],"nice":false,"zero":false},"axis":null},
  "y":{"datum":0,"type":"quantitative","scale":{"domain":[-20,20],"nice":false,"zero":false},"axis":null}}},
{"data":{"values":[{}]},"mark":{"type":"rule","color":"#ffffff","strokeWidth":3},
 "encoding":{"x":{"datum":-3.0,"type":"quantitative","scale":{"domain":[0,200],"nice":false,"zero":false},"axis":null},"x2":{"datum":-0.9},
  "y":{"datum":0,"type":"quantitative","scale":{"domain":[-20,20],"nice":false,"zero":false},"axis":null}}},
{"data":{"values":[{}]},"mark":{"type":"point","shape":"triangle-right","filled":true,"color":"#ffffff","opacity":1,"size":110},
 "encoding":{"x":{"datum":-0.85,"type":"quantitative","scale":{"domain":[0,200],"nice":false,"zero":false},"axis":null},
  "y":{"datum":0,"type":"quantitative","scale":{"domain":[-20,20],"nice":false,"zero":false},"axis":null}}},
{"data":{"values":[{}]},"mark":{"type":"text","text":"3","font":"Liberation Sans","fontSize":44,"color":"#a11fa5","align":"center","baseline":"middle"},
 "encoding":{"x":{"datum":-4.3,"type":"quantitative","scale":{"domain":[0,200],"nice":false,"zero":false},"axis":null},
  "y":{"datum":-10,"type":"quantitative","scale":{"domain":[-20,20],"nice":false,"zero":false},"axis":null}}},
{"data":{"values":[{}]},"mark":{"type":"rule","color":"#a11fa5","strokeWidth":3},
 "encoding":{"x":{"datum":-3.0,"type":"quantitative","scale":{"domain":[0,200],"nice":false,"zero":false},"axis":null},"x2":{"datum":-0.6},
  "y":{"datum":-10,"type":"quantitative","scale":{"domain":[-20,20],"nice":false,"zero":false},"axis":null}}},
{"data":{"values":[{}]},"mark":{"type":"point","shape":"triangle-right","filled":true,"color":"#a11fa5","opacity":1,"size":130},
 "encoding":{"x":{"datum":-0.5,"type":"quantitative","scale":{"domain":[0,200],"nice":false,"zero":false},"axis":null},
  "y":{"datum":-10,"type":"quantitative","scale":{"domain":[-20,20],"nice":false,"zero":false},"axis":null}}},
{"data":{"values":[{}]},"mark":{"type":"rule","color":"#c55a11","strokeWidth":6},
 "encoding":{"x":{"datum":10.35,"type":"quantitative","scale":{"domain":[0,200],"nice":false,"zero":false},"axis":null},"x2":{"datum":22.17},
  "y":{"datum":-17.78,"type":"quantitative","scale":{"domain":[-20,20],"nice":false,"zero":false},"axis":null}}},
{"data":{"values":[{}]},"mark":{"type":"text","text":"Vab","font":"Liberation Serif","fontSize":72,"color":"#c55a11","align":"left","baseline":"alphabetic"},
 "encoding":{"x":{"datum":24.4,"type":"quantitative","scale":{"domain":[0,200],"nice":false,"zero":false},"axis":null},
  "y":{"datum":-18.25,"type":"quantitative","scale":{"domain":[-20,20],"nice":false,"zero":false},"axis":null}}},
{"data":{"values":[{}]},"mark":{"type":"rule","color":"#4472c4","strokeWidth":6},
 "encoding":{"x":{"datum":42.9,"type":"quantitative","scale":{"domain":[0,200],"nice":false,"zero":false},"axis":null},"x2":{"datum":55.1},
  "y":{"datum":-17.78,"type":"quantitative","scale":{"domain":[-20,20],"nice":false,"zero":false},"axis":null}}},
{"data":{"values":[{}]},"mark":{"type":"text","text":"Vbc","font":"Liberation Serif","fontSize":72,"color":"#0070c0","align":"left","baseline":"alphabetic"},
 "encoding":{"x":{"datum":57.0,"type":"quantitative","scale":{"domain":[0,200],"nice":false,"zero":false},"axis":null},
  "y":{"datum":-18.25,"type":"quantitative","scale":{"domain":[-20,20],"nice":false,"zero":false},"axis":null}}},
{"data":{"values":[{}]},"mark":{"type":"rule","color":"#a00aa0","strokeWidth":6},
 "encoding":{"x":{"datum":73.9,"type":"quantitative","scale":{"domain":[0,200],"nice":false,"zero":false},"axis":null},"x2":{"datum":87.8},
  "y":{"datum":-17.78,"type":"quantitative","scale":{"domain":[-20,20],"nice":false,"zero":false},"axis":null}}},
{"data":{"values":[{}]},"mark":{"type":"text","text":"Vca","font":"Liberation Serif","fontSize":72,"color":"#a000a0","align":"left","baseline":"alphabetic"},
 "encoding":{"x":{"datum":89.0,"type":"quantitative","scale":{"domain":[0,200],"nice":false,"zero":false},"axis":null},
  "y":{"datum":-18.25,"type":"quantitative","scale":{"domain":[-20,20],"nice":false,"zero":false},"axis":null}}},
{"data":{"values":[{}]},"mark":{"type":"text","text":"Ch1","font":"Liberation Sans","fontSize":48,"color":"#b5641c","align":"left","baseline":"middle"},
 "encoding":{"x":{"datum":-0.16,"type":"quantitative","scale":{"domain":[0,200],"nice":false,"zero":false},"axis":null},
  "y":{"datum":-21.14,"type":"quantitative","scale":{"domain":[-20,20],"nice":false,"zero":false},"axis":null}}},
{"data":{"values":[{}]},"mark":{"type":"text","text":"5.0V","font":"Liberation Sans","fontSize":48,"color":"#b5641c","align":"left","baseline":"middle"},
 "encoding":{"x":{"datum":15.85,"type":"quantitative","scale":{"domain":[0,200],"nice":false,"zero":false},"axis":null},
  "y":{"datum":-21.14,"type":"quantitative","scale":{"domain":[-20,20],"nice":false,"zero":false},"axis":null}}},
{"data":{"values":[{}]},"mark":{"type":"text","text":"Ch2","font":"Liberation Sans","fontSize":48,"color":"#1f5fc4","align":"left","baseline":"middle"},
 "encoding":{"x":{"datum":59.97,"type":"quantitative","scale":{"domain":[0,200],"nice":false,"zero":false},"axis":null},
  "y":{"datum":-21.14,"type":"quantitative","scale":{"domain":[-20,20],"nice":false,"zero":false},"axis":null}}},
{"data":{"values":[{}]},"mark":{"type":"text","text":"5.0V","font":"Liberation Sans","fontSize":48,"color":"#1f5fc4","align":"left","baseline":"middle"},
 "encoding":{"x":{"datum":75.83,"type":"quantitative","scale":{"domain":[0,200],"nice":false,"zero":false},"axis":null},
  "y":{"datum":-21.14,"type":"quantitative","scale":{"domain":[-20,20],"nice":false,"zero":false},"axis":null}}},
{"data":{"values":[{}]},"mark":{"type":"text","text":"M 20.0ms 250kS/s","font":"Liberation Sans","fontSize":48,"color":"#111111","align":"left","baseline":"middle"},
 "encoding":{"x":{"datum":119.7,"type":"quantitative","scale":{"domain":[0,200],"nice":false,"zero":false},"axis":null},
  "y":{"datum":-21.14,"type":"quantitative","scale":{"domain":[-20,20],"nice":false,"zero":false},"axis":null}}},
{"data":{"values":[{}]},"mark":{"type":"text","text":"4.0µs/pt","font":"Liberation Sans","fontSize":48,"color":"#111111","align":"left","baseline":"middle"},
 "encoding":{"x":{"datum":162.5,"type":"quantitative","scale":{"domain":[0,200],"nice":false,"zero":false},"axis":null},
  "y":{"datum":-21.14,"type":"quantitative","scale":{"domain":[-20,20],"nice":false,"zero":false},"axis":null}}},
{"data":{"values":[{}]},"mark":{"type":"text","text":"Ch3","font":"Liberation Sans","fontSize":48,"color":"#a316a8","align":"left","baseline":"middle"},
 "encoding":{"x":{"datum":-0.16,"type":"quantitative","scale":{"domain":[0,200],"nice":false,"zero":false},"axis":null},
  "y":{"datum":-22.31,"type":"quantitative","scale":{"domain":[-20,20],"nice":false,"zero":false},"axis":null}}},
{"data":{"values":[{}]},"mark":{"type":"text","text":"5.0V","font":"Liberation Sans","fontSize":48,"color":"#a316a8","align":"left","baseline":"middle"},
 "encoding":{"x":{"datum":15.85,"type":"quantitative","scale":{"domain":[0,200],"nice":false,"zero":false},"axis":null},
  "y":{"datum":-22.31,"type":"quantitative","scale":{"domain":[-20,20],"nice":false,"zero":false},"axis":null}}},
{"data":{"values":[{}]},"mark":{"type":"text","text":"A","font":"Liberation Sans","fontSize":48,"color":"#111111","align":"left","baseline":"middle"},
 "encoding":{"x":{"datum":119.7,"type":"quantitative","scale":{"domain":[0,200],"nice":false,"zero":false},"axis":null},
  "y":{"datum":-22.31,"type":"quantitative","scale":{"domain":[-20,20],"nice":false,"zero":false},"axis":null}}},
{"data":{"values":[{}]},"mark":{"type":"text","text":"Ch1","font":"Liberation Sans","fontSize":48,"color":"#b5641c","align":"left","baseline":"middle"},
 "encoding":{"x":{"datum":124.8,"type":"quantitative","scale":{"domain":[0,200],"nice":false,"zero":false},"axis":null},
  "y":{"datum":-22.31,"type":"quantitative","scale":{"domain":[-20,20],"nice":false,"zero":false},"axis":null}}},
{"data":{"values":[{}]},"mark":{"type":"text","text":"/","font":"Liberation Sans","fontSize":40,"color":"#111111","align":"left","baseline":"middle"},
 "encoding":{"x":{"datum":135.4,"type":"quantitative","scale":{"domain":[0,200],"nice":false,"zero":false},"axis":null},
  "y":{"datum":-22.31,"type":"quantitative","scale":{"domain":[-20,20],"nice":false,"zero":false},"axis":null}}},
{"data":{"values":[{}]},"mark":{"type":"text","text":"200mV","font":"Liberation Sans","fontSize":48,"color":"#111111","align":"left","baseline":"middle"},
 "encoding":{"x":{"datum":140.25,"type":"quantitative","scale":{"domain":[0,200],"nice":false,"zero":false},"axis":null},
  "y":{"datum":-22.31,"type":"quantitative","scale":{"domain":[-20,20],"nice":false,"zero":false},"axis":null}}}
],
"resolve":{"scale":{"y":"independent"}}
}
